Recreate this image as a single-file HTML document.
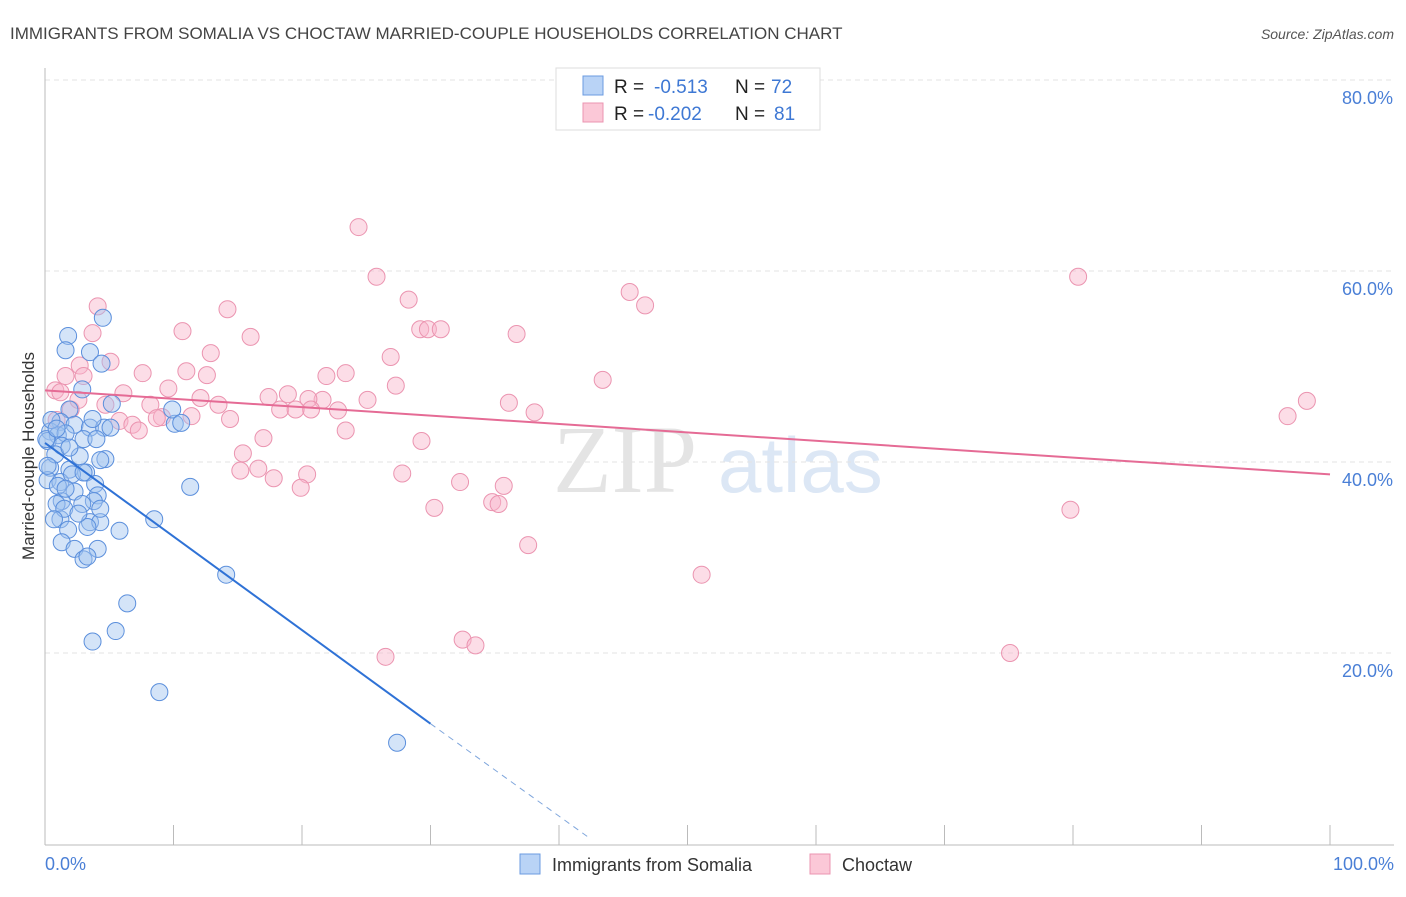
<!DOCTYPE html>
<html><head><meta charset="utf-8"><style>
body{margin:0;background:#fff;font-family:"Liberation Sans",sans-serif;}
svg text{font-family:"Liberation Sans",sans-serif;}
</style></head><body>
<svg id="chart" width="1406" height="892" viewBox="0 0 1406 892" xmlns="http://www.w3.org/2000/svg">
<text x="10" y="39" font-size="17" fill="#444">IMMIGRANTS FROM SOMALIA VS CHOCTAW MARRIED-COUPLE HOUSEHOLDS CORRELATION CHART</text>
<text x="1394" y="39" font-size="14" fill="#555" font-style="italic" text-anchor="end">Source: ZipAtlas.com</text>
<g>
<text x="553" y="492" font-size="96" fill="#e4e4e4" font-family="Liberation Serif" style="font-family:'Liberation Serif',serif">ZIP</text>
<text x="718" y="492" font-size="78" fill="#dce7f5">atlas</text>
</g>
<g id="grid"></g>
<g id="axes"></g>
<g id="pts"></g>
<g id="trends"></g>
<text transform="translate(34,456) rotate(-90)" font-size="17" fill="#333" text-anchor="middle">Married-couple Households</text>
<g>
<rect x="556" y="68" width="264" height="62" fill="#fff" stroke="#ddd"/>
<rect x="583" y="76" width="20" height="19" fill="#b9d3f6" stroke="#6b9be0"/>
<rect x="583" y="103" width="20" height="19" fill="#fbc8d7" stroke="#eb94b0"/>
<text x="614" y="93" font-size="19" fill="#222">R = </text><text x="654" y="93" font-size="19" fill="#3e78d4">-0.513</text>
<text x="735" y="93" font-size="19" fill="#222">N = </text><text x="771" y="93" font-size="19" fill="#3e78d4">72</text>
<text x="614" y="120" font-size="19" fill="#222">R = </text><text x="648" y="120" font-size="19" fill="#3e78d4">-0.202</text>
<text x="735" y="120" font-size="19" fill="#222">N = </text><text x="774" y="120" font-size="19" fill="#3e78d4">81</text>
</g>
<g>
<rect x="520" y="854" width="20" height="20" fill="#b9d3f6" stroke="#6b9be0"/>
<text x="552" y="871" font-size="18" fill="#333">Immigrants from Somalia</text>
<rect x="810" y="854" width="20" height="20" fill="#fbc8d7" stroke="#eb94b0"/>
<text x="842" y="871" font-size="18" fill="#333">Choctaw</text>
</g>
</svg>
<script>
const xTicks=[0,10,20,30,40,50,60,70,80,90,100];
const yTicks=[20,40,60,80];
const yTickLabels=["20.0%","40.0%","60.0%","80.0%"];
const xTickLabels=["0.0%","100.0%"];
const somaliaX=[4.5,1.8,1.6,3.5,4.4,2.9,5.2,1.9,1.2,2.3,3.5,4.6,0.4,1,1.6,0.2,1.3,2.7,4.7,0.4,1.9,3.2,0.2,1.2,3.9,11.3,2.3,4.1,1.3,0.9,3.8,2.9,1.2,3.5,4.3,8.5,3.3,5.8,1.8,1.3,4.1,2.3,3.0,3.3,6.4,14.1,5.5,3.7,8.9,27.4,10.1,9.9,10.6,0.8,2.1,0.1,0.5,1.5,2.6,3.0,4.3,1.0,0.2,0.9,3.7,1.9,4.3,3.0,1.6,0.7,5.1,4.0];
const somaliaY=[55.1,53.2,51.7,51.5,50.3,47.6,46.1,45.5,44.2,43.9,43.6,43.6,43.2,42.8,43,42.2,41.7,40.6,40.3,39.4,39.2,38.9,38.1,37.9,37.7,37.4,36.9,36.5,35.9,35.6,35.9,35.6,34.0,33.7,33.7,34.0,33.2,32.8,32.9,31.6,30.9,30.9,29.8,30.1,25.2,28.2,22.3,21.2,15.9,10.6,44.0,45.5,44.1,40.8,38.7,42.4,44.4,35.1,34.6,42.4,35.1,37.5,39.6,43.5,44.5,41.5,40.2,38.9,37.2,34.0,43.6,42.4];
const choctawX=[24.4,25.8,80.4,4.1,14.2,28.3,45.5,46.7,3.7,10.7,16,29.2,29.8,30.8,36.7,12.9,26.9,5.1,2.7,1.6,3,7.6,11,12.6,23.4,21.9,43.4,0.8,6.1,9.6,27.3,17.4,18.9,21.6,12.1,25.1,20.5,20.7,36.1,38.1,18.3,19.5,22.8,4.7,2.0,8.2,13.5,98.2,96.7,0.9,5.8,9.1,11.4,14.4,6.8,8.7,23.4,7.3,17.0,29.3,15.4,15.2,16.6,17.8,20.4,27.8,19.9,32.3,35.7,30.3,34.8,35.3,79.8,37.6,51.1,32.5,33.5,26.5,75.1,2.6,1.2];
const choctawY=[64.6,59.4,59.4,56.3,56,57,57.8,56.4,53.5,53.7,53.1,53.9,53.9,53.9,53.4,51.4,51,50.5,50.1,49.0,49.0,49.3,49.5,49.1,49.3,49.0,48.6,47.5,47.2,47.7,48.0,46.8,47.1,46.5,46.7,46.5,46.6,45.5,46.2,45.2,45.5,45.5,45.4,46.0,45.5,46.0,46.0,46.4,44.8,44.4,44.3,44.7,44.8,44.5,43.9,44.6,43.3,43.3,42.5,42.2,40.9,39.1,39.3,38.3,38.7,38.8,37.3,37.9,37.5,35.2,35.8,35.6,35.0,31.3,28.2,21.4,20.8,19.6,20.0,46.5,47.3];
const blueTrend=[[0,42.0],[30,12.6],[42.5,0.5]];
const pinkTrend=[[0,47.5],[100,38.7]];
const NS="http://www.w3.org/2000/svg";
const X0=45,X1=1330,Y0=844,YPP=9.55;
const sx=v=>X0+(X1-X0)*v/100;
const sy=v=>Y0-v*YPP;
function mk(t,a,p){const e=document.createElementNS(NS,t);for(const k in a)e.setAttribute(k,a[k]);p.appendChild(e);return e;}
const grid=document.getElementById('grid'),axes=document.getElementById('axes');
yTicks.forEach((t,i)=>{
 const l=mk('line',{x1:45,x2:1394,y1:sy(t),y2:sy(t),stroke:'#e3e3e3','stroke-dasharray':'5,4'},grid);
 
 
 const tx=mk('text',{x:1393,y:sy(t)+24,'font-size':18,fill:'#4a7fd6','text-anchor':'end'},axes);
 tx.textContent=yTickLabels[i];
 
 
});
mk('line',{x1:45,x2:45,y1:68,y2:845,stroke:'#bbb'},axes);
mk('line',{x1:45,x2:1394,y1:845,y2:845,stroke:'#bbb'},axes);
xTicks.forEach(t=>{
 const l=mk('line',{x1:sx(t),x2:sx(t),y1:825,y2:845,stroke:'#bbb'},axes);
 
 
});
const xl0=mk('text',{x:45,y:870,'font-size':18,fill:'#4a7fd6'},axes);xl0.textContent=xTickLabels[0];


const xl1=mk('text',{x:1394,y:870,'font-size':18,fill:'#4a7fd6','text-anchor':'end'},axes);xl1.textContent=xTickLabels[1];


const pts=document.getElementById('pts');
choctawX.forEach((v,i)=>{const c=mk('circle',{cx:sx(v),cy:sy(choctawY[i]),r:8.5,fill:'rgba(248,180,202,0.45)',stroke:'#eb94b0','stroke-width':1},pts);
 
 });
somaliaX.forEach((v,i)=>{const c=mk('circle',{cx:sx(v),cy:sy(somaliaY[i]),r:8.5,fill:'rgba(160,195,240,0.45)',stroke:'#5b8fdc','stroke-width':1},pts);
 
 });
const tr=document.getElementById('trends');
const b1=mk('line',{x1:sx(blueTrend[0][0]),y1:sy(blueTrend[0][1]),x2:sx(blueTrend[1][0]),y2:sy(blueTrend[1][1]),stroke:'#2f72d6','stroke-width':2},tr);


const b2=mk('line',{x1:sx(blueTrend[1][0]),y1:sy(blueTrend[1][1]),x2:sx(blueTrend[2][0]),y2:sy(blueTrend[2][1]),stroke:'#7fa6dc','stroke-width':1,'stroke-dasharray':'6,5'},tr);


const p1=mk('line',{x1:sx(pinkTrend[0][0]),y1:sy(pinkTrend[0][1]),x2:sx(pinkTrend[1][0]),y2:sy(pinkTrend[1][1]),stroke:'#e56b95','stroke-width':2},tr);


</script>
</body></html>
